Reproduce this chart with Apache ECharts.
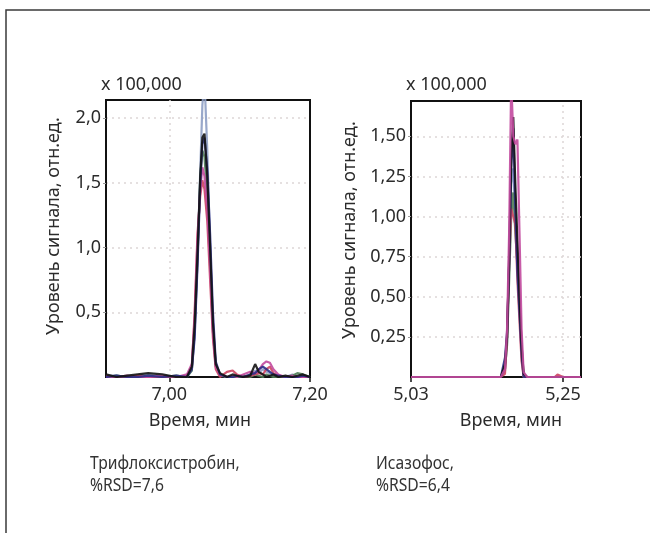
<!DOCTYPE html>
<html><head><meta charset="utf-8">
<script src="https://cdn.jsdelivr.net/npm/echarts@6/dist/echarts.min.js"></script>
<style>html,body{margin:0;padding:0;background:#fff}#c{width:650px;height:533px}</style>
</head><body><div id="c"></div>
<script>
// ---- Left chart: Трифлоксистробин (time, min; signal x100,000) ----
const timeL = [6.910,6.925,6.940,6.955,6.970,6.990,7.010,7.025,7.032,7.036,7.040,7.044,7.047,7.050,7.054,7.058,7.062,7.066,7.072,7.082,7.090,7.096,7.105,7.115,7.122,7.127,7.133,7.138,7.143,7.148,7.155,7.165,7.175,7.182,7.190,7.200];
const L_gray  = [0.01,0.01,0.00,0.01,0.02,0.00,0.00,0.01,0.05,0.35,0.90,1.60,2.10,2.30,1.75,1.00,0.35,0.08,0.02,0.00,0.01,0.00,0.00,0.02,0.05,0.03,0.06,0.04,0.03,0.02,0.01,0.00,0.02,0.00,0.01,0.00];
const L_green = [0.00,0.01,0.00,0.00,0.00,0.00,0.01,0.00,0.05,0.35,0.90,1.55,1.75,1.70,1.40,0.90,0.38,0.09,0.01,0.00,0.00,0.00,0.01,0.00,0.02,0.01,0.00,0.02,0.01,0.00,0.00,0.00,0.01,0.03,0.02,0.00];
const L_red   = [0.01,0.00,0.00,0.01,0.00,0.00,0.00,0.01,0.07,0.50,1.10,1.40,1.52,1.45,1.20,0.75,0.30,0.06,0.00,0.04,0.05,0.02,0.00,0.01,0.02,0.03,0.02,0.06,0.08,0.03,0.01,0.00,0.00,0.00,0.00,0.00];
const L_pink  = [0.00,0.00,0.01,0.00,0.00,0.01,0.00,0.02,0.10,0.45,1.05,1.45,1.62,1.55,1.30,0.85,0.35,0.08,0.02,0.00,0.01,0.00,0.02,0.04,0.03,0.05,0.10,0.12,0.11,0.06,0.02,0.00,0.01,0.00,0.00,0.00];
const L_navy  = [0.00,0.01,0.00,0.00,0.01,0.00,0.01,0.00,0.06,0.30,0.85,1.50,1.80,1.85,1.60,1.10,0.50,0.12,0.02,0.00,0.00,0.01,0.00,0.02,0.03,0.06,0.08,0.06,0.04,0.02,0.01,0.00,0.00,0.00,0.01,0.00];
const L_black = [0.02,0.00,0.01,0.02,0.03,0.02,0.00,0.00,0.08,0.40,0.95,1.55,1.85,1.88,1.55,1.00,0.42,0.10,0.03,0.00,0.02,0.01,0.00,0.01,0.10,0.04,0.02,0.00,0.01,0.02,0.00,0.01,0.00,0.01,0.02,0.00];

// ---- Right chart: Исазофос ----
const timeR = [5.030,5.050,5.070,5.090,5.110,5.130,5.150,5.160,5.166,5.169,5.172,5.175,5.178,5.181,5.184,5.187,5.190,5.193,5.198,5.210,5.225,5.238,5.242,5.250,5.262,5.276];
const R_gray  = [0,0,0,0,0,0,0,0,0.04,0.22,0.70,1.20,1.30,1.00,0.80,0.45,0.12,0.00,0,0,0,0,0,0,0,0];
const R_green = [0,0,0,0,0,0,0,0,0.05,0.20,0.60,1.00,1.15,0.90,0.70,0.45,0.18,0.01,0,0,0,0,0,0,0,0];
const R_red   = [0,0,0,0,0,0,0,0,0.02,0.25,0.70,1.05,1.00,0.95,0.60,0.35,0.10,0.00,0,0,0,0,0.015,0,0,0];
const R_navy  = [0,0,0,0,0,0,0,0,0.12,0.28,0.70,1.30,1.55,1.05,0.65,0.40,0.15,0.00,0,0,0,0,0,0,0,0];
const R_black = [0,0,0,0,0,0,0,0,0.08,0.25,0.75,1.35,1.62,1.20,0.85,0.50,0.20,0.02,0,0,0,0,0,0,0,0];
const R_pink  = [0,0,0,0,0,0,0,0,0.05,0.30,0.90,1.85,1.50,1.45,1.48,0.90,0.30,0.03,0,0,0,0,0,0,0,0];

// ---- Tick labels ----
const xTicksL = [7.00, 7.20];
const yTicksL = [0.5, 1.0, 1.5, 2.0];
const xTicksR = [5.03, 5.25];
const yTicksR = [0.25, 0.50, 0.75, 1.00, 1.25, 1.50];
// vertical dotted grid lines inside plots
const xGridL = [7.00];
const xGridR = [5.25];

const COLORS = {gray:'#8e9fc4', green:'#4f7d57', red:'#cc4462', pink:'#c24a9e', navy:'#2b2d86', black:'#141414'};
const FONT = '"Noto Sans", "Open Sans", sans-serif';
const TXT = '#2b2b2b';
const GRIDC = '#ddd6d6';

function pair(t, v){ return t.map((x,i)=>[x, v[i]]); }
function mk(name, idx, t, v, vgrid){
  const s = {type:'line', name, xAxisIndex:idx, yAxisIndex:idx, data:pair(t,v), symbol:'none', z:3,
    lineStyle:{color:COLORS[name], width:2.2, opacity:0.9}, clip:true, animation:false};
  if (vgrid) s.markLine = {silent:true, symbol:'none', label:{show:false}, z:1,
    lineStyle:{color:GRIDC, type:[2,4], width:1.5}, data:vgrid.map(x=>({xAxis:x}))};
  return s;
}
const fmt = d => v => v.toFixed(d).replace('.', ',');

function xAx(idx, min, max, ticks, dec){
  return {type:'value', gridIndex:idx, min, max,
    axisLine:{show:true, lineStyle:{color:'#111', width:2}},
    axisTick:{show:true, customValues:ticks, length:5, lineStyle:{color:'#111', width:1.5}},
    axisLabel:{customValues:ticks, formatter:fmt(dec), color:TXT, fontSize:18, fontFamily:FONT, margin:9},
    splitLine:{show:false}};
}
function yAx(idx, max, ticks, dec){
  return {type:'value', gridIndex:idx, min:0, max,
    axisLine:{show:true, lineStyle:{color:'#111', width:2}},
    axisTick:{show:true, customValues:ticks, length:3, lineStyle:{color:'#999'}},
    axisLabel:{customValues:ticks, formatter:fmt(dec), color:TXT, fontSize:18, fontFamily:FONT, margin:5},
    splitLine:{show:true, lineStyle:{color:GRIDC, type:[2,4], width:1.5}}};
}

const chart = echarts.init(document.getElementById('c'), null, {renderer:'canvas'});
const t = (text, x, y, opts={}) => ({type:'text', x, y, scaleX:opts.scaleX||1, style:Object.assign({text, fill:TXT, font:'18px '+FONT, textAlign:'left', textVerticalAlign:'middle'}, opts.style||{}), rotation:opts.rotation||0, z:10});
const cap = {scaleX:0.87, style:{font:'18px '+FONT, fill:'#333'}};
chart.setOption({
  animation:false,
  backgroundColor:'#fff',
  grid:[
    {left:106, top:100, width:204, height:277, show:true, borderColor:'#111', borderWidth:2, backgroundColor:'transparent'},
    {left:411, top:101, width:170, height:276, show:true, borderColor:'#111', borderWidth:2, backgroundColor:'transparent'}
  ],
  xAxis:[ xAx(0, 6.91, 7.20, xTicksL, 2), xAx(1, 5.03, 5.276, xTicksR, 2) ],
  yAxis:[ yAx(0, 2.14, yTicksL, 1), yAx(1, 1.72, yTicksR, 2) ],
  series:[
    mk('gray',0,timeL,L_gray,xGridL), mk('green',0,timeL,L_green), mk('red',0,timeL,L_red),
    mk('pink',0,timeL,L_pink), mk('navy',0,timeL,L_navy), mk('black',0,timeL,L_black),
    mk('gray',1,timeR,R_gray,xGridR), mk('green',1,timeR,R_green), mk('red',1,timeR,R_red),
    mk('navy',1,timeR,R_navy), mk('black',1,timeR,R_black), mk('pink',1,timeR,R_pink)
  ],
  graphic:[
    {type:'rect', shape:{x:6, y:10, width:700, height:600}, style:{fill:'none', stroke:'#3a3a3a', lineWidth:1.5}, silent:true},
    t('x 100,000', 101, 85),
    t('x 100,000', 406, 85),
    t('Уровень сигнала, отн.ед.', 54, 226, {rotation:Math.PI/2, style:{textAlign:'center'}}),
    t('Уровень сигнала, отн.ед.', 350, 230, {rotation:Math.PI/2, style:{textAlign:'center'}}),
    t('Время, мин', 200, 421, {style:{textAlign:'center'}}),
    t('Время, мин', 511, 421, {style:{textAlign:'center'}}),
    t('Трифлоксистробин,', 90, 464, cap),
    t('%RSD=7,6', 90, 486, cap),
    t('Исазофос,', 376, 464, cap),
    t('%RSD=6,4', 376, 486, cap)
  ]
});
</script></body></html>
